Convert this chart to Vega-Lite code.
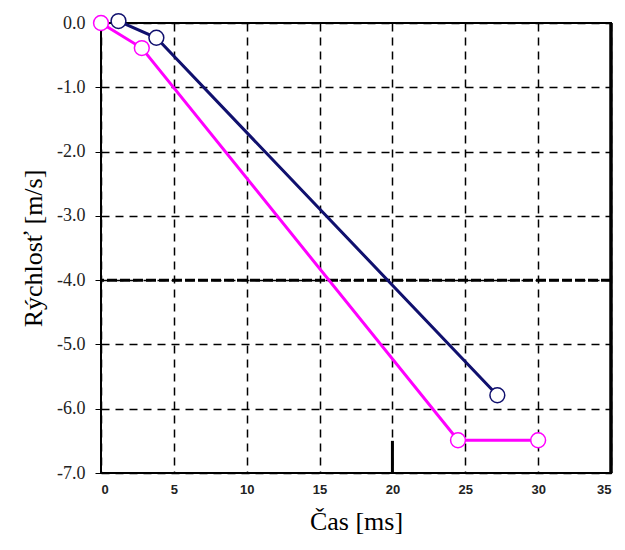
{
  "$schema": "https://vega.github.io/schema/vega-lite/v6.json",
  "width": 510,
  "height": 450,
  "autosize": {"type": "none"},
  "padding": {"left": 101, "top": 23, "right": 14, "bottom": 77},
  "background": "white",
  "config": {
    "view": {"stroke": "black", "strokeWidth": 2}
  },
  "datasets": {
    "pts": [
      {"series": "A", "t": 1.2, "v": 0.03},
      {"series": "A", "t": 3.8, "v": -0.23},
      {"series": "A", "t": 27.2, "v": -5.79},
      {"series": "B", "t": 0.0, "v": 0.0},
      {"series": "B", "t": 2.8, "v": -0.39},
      {"series": "B", "t": 24.5, "v": -6.49},
      {"series": "B", "t": 30.0, "v": -6.49}
    ]
  },
  "layer": [
    {
      "data": {"values": [{"v": -4}]},
      "mark": {"type": "rule", "color": "black", "strokeWidth": 3, "strokeDash": [10, 3]},
      "encoding": {"y": {"field": "v", "type": "quantitative", "scale": {"domain": [-7, 0]}}}
    },
    {
      "data": {"values": [{"t": 35, "v": 0, "v2": -7}]},
      "mark": {"type": "rule", "color": "black", "strokeWidth": 3.5},
      "encoding": {
        "x": {"field": "t", "type": "quantitative", "scale": {"domain": [0, 35]}},
        "y": {"field": "v", "type": "quantitative", "scale": {"domain": [-7, 0]}},
        "y2": {"field": "v2"}
      }
    },
    {
      "data": {"values": [{"t": 20, "v": -6.5, "v2": -7}]},
      "mark": {"type": "rule", "color": "black", "strokeWidth": 3},
      "encoding": {
        "x": {"field": "t", "type": "quantitative", "scale": {"domain": [0, 35]}},
        "y": {"field": "v", "type": "quantitative", "scale": {"domain": [-7, 0]}},
        "y2": {"field": "v2"}
      }
    },
    {
      "data": {"name": "pts"},
      "mark": {"type": "line", "strokeWidth": 3, "clip": false},
      "encoding": {
        "x": {
          "field": "t", "type": "quantitative",
          "scale": {"domain": [0, 35], "nice": false, "zero": false},
          "axis": {
            "values": [0, 5, 10, 15, 20, 25, 30, 35],
            "title": "Čas [ms]",
            "titleFont": "Liberation Serif", "titleFontSize": 26, "titleFontWeight": "normal", "titleColor": "black", "titlePadding": 12,
            "labelFont": "Liberation Sans", "labelFontSize": 13, "labelFontWeight": "bold", "labelColor": "#222",
            "labelPadding": 10,
            "grid": true, "gridColor": "black", "gridDash": [8, 6], "gridWidth": 1.5,
            "domain": false, "ticks": false
          }
        },
        "y": {
          "field": "v", "type": "quantitative",
          "scale": {"domain": [-7, 0], "nice": false, "zero": false},
          "axis": {
            "values": [0, -1, -2, -3, -4, -5, -6, -7],
            "labelExpr": "replace(format(datum.value, '.1f'), '\u2212', '-')",
            "title": "Rýchlosť [m/s]",
            "titleFont": "Liberation Serif", "titleFontSize": 26, "titleFontWeight": "normal", "titleColor": "black", "titlePadding": 10,
            "labelFont": "Liberation Serif", "labelFontSize": 18, "labelColor": "#222",
            "labelPadding": 10,
            "grid": true, "gridColor": "black", "gridDash": [8, 6], "gridWidth": 1.5,
            "domain": false, "ticks": true, "tickColor": "black", "tickSize": 6
          }
        },
        "color": {
          "field": "series", "type": "nominal",
          "scale": {"domain": ["A", "B"], "range": ["#10106e", "#ff00ff"]},
          "legend": null
        }
      }
    },
    {
      "data": {"name": "pts"},
      "mark": {"type": "point", "shape": "circle", "size": 220, "strokeWidth": 1.5, "filled": false, "fill": "white", "fillOpacity": 1, "clip": false},
      "encoding": {
        "x": {"field": "t", "type": "quantitative"},
        "y": {"field": "v", "type": "quantitative"},
        "stroke": {
          "field": "series", "type": "nominal",
          "scale": {"domain": ["A", "B"], "range": ["#10106e", "#ff00ff"]},
          "legend": null
        }
      }
    }
  ]
}
